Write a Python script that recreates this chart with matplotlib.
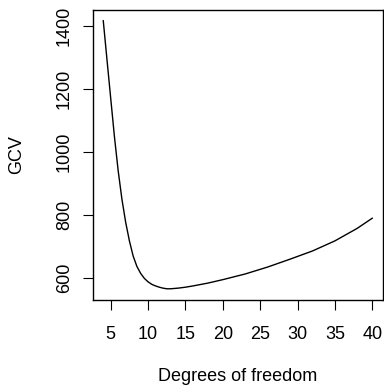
import matplotlib
matplotlib.use("Agg")
import matplotlib.pyplot as plt

plt.rcParams['font.family'] = ['Liberation Sans', 'DejaVu Sans']

df = [4, 4.5, 5, 5.5, 6, 6.5, 7, 7.5, 8, 8.5, 9, 9.5, 10, 10.5, 11, 11.5, 12, 12.5, 13, 14, 15, 16, 18, 20, 23, 26, 29, 32, 35, 38, 40]
gcv = [1417, 1293, 1170, 1048, 940, 850, 777, 718, 670, 637, 615, 599, 588, 580, 575, 571, 568, 566, 566, 568, 571, 575, 584, 595, 613, 635, 660, 686, 718, 758, 790]
xticks = [5, 10, 15, 20, 25, 30, 35, 40]
yticks = [600, 800, 1000, 1200, 1400]

fig = plt.figure(figsize=(3.84, 3.86), dpi=100)
ax = fig.add_axes([92.5/384, 1 - 299.5/386, 290.5/384, 289.5/386])
ax.plot(df, gcv, color='black', linewidth=1.0)

xr = max(df) - min(df)
yr = max(gcv) - min(gcv)
ax.set_xlim(min(df) - 0.04*xr, max(df) + 0.04*xr)
ax.set_ylim(min(gcv) - 0.04*yr, max(gcv) + 0.04*yr)
ax.set_xticks(xticks)
ax.set_yticks(yticks)
ax.set_yticklabels([str(v) for v in yticks], rotation=90, va='center')
ax.tick_params(axis='both', direction='out', length=7.2, width=0.8, labelsize=13, color='black')
ax.tick_params(axis='x', pad=12)
ax.tick_params(axis='y', pad=7)
for s in ax.spines.values():
    s.set_linewidth(1.0)
    s.set_color('black')

ax.set_xlabel('Degrees of freedom', fontsize=13)
ax.set_ylabel('GCV', fontsize=13)
ax.xaxis.set_label_coords(0.5, -0.2667)
ax.xaxis.label.set_va('center')
ax.yaxis.set_label_coords(-0.261, 0.5)
ax.yaxis.label.set_va('center')

fig.savefig('out.png', dpi=100)
